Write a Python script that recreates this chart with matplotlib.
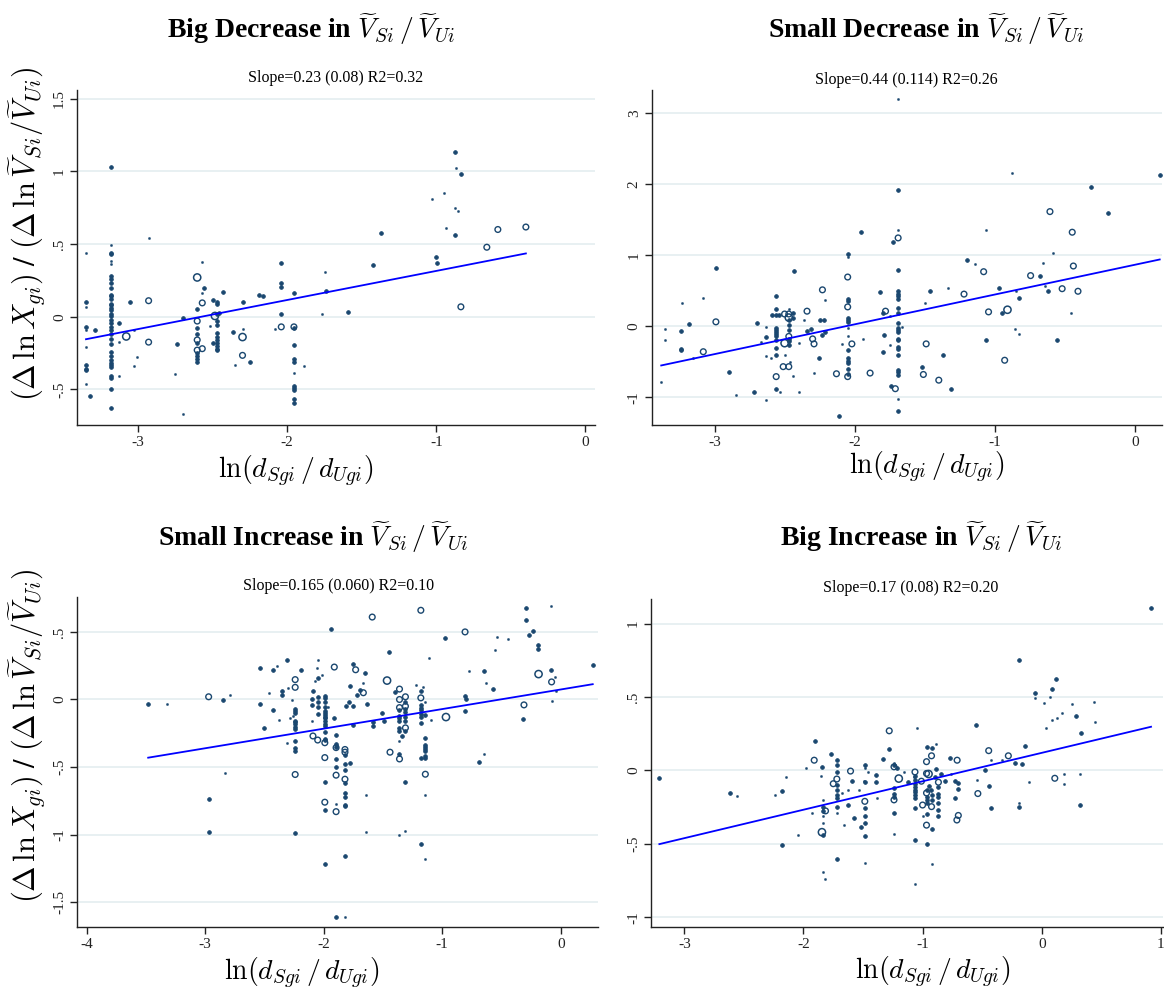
import numpy as np
import matplotlib
matplotlib.use('Agg')
import matplotlib.pyplot as plt

plt.rcParams['mathtext.fontset'] = 'cm'
plt.rcParams['font.family'] = ['Liberation Serif', 'DejaVu Serif']

# panel titles / fit stats
titles = ['Big Decrease in', 'Small Decrease in', 'Small Increase in', 'Big Increase in']
stats = ['Slope=0.23 (0.08) R2=0.32', 'Slope=0.44 (0.114) R2=0.26',
         'Slope=0.165 (0.060) R2=0.10', 'Slope=0.17 (0.08) R2=0.20']

# fitted lines (slope, intercept)
fit_slope = [0.200, 0.419, 0.145, 0.1935]
fit_icept = [0.515, 0.863, 0.074, 0.120]

# ticks
xticks = [[-3, -2, -1, 0], [-3, -2, -1, 0], [-4, -3, -2, -1, 0], [-3, -2, -1, 0, 1]]
yticks = [[1.5, 1, 0.5, 0, -0.5], [3, 2, 1, 0, -1], [0.5, 0, -0.5, -1, -1.5], [1, 0.5, 0, -0.5, -1]]
ytick_labels = [['1.5', '1', '.5', '0', '-.5'], ['3', '2', '1', '0', '-1'],
                ['.5', '0', '-.5', '-1', '-1.5'], ['1', '.5', '0', '-.5', '-1']]
xlims = [(-3.41, 0.065), (-3.447, 0.19), (-4.08, 0.315), (-3.28, 1.02)]
ylims = [(-0.745, 1.56), (-1.39, 3.32), (-1.68, 0.757), (-1.062, 1.166)]

# points: (x, y, weight class 1..4)
big_dec = [
    (-3.35, 0.44, 1), (-3.35, 0.10, 2), (-3.35, 0.066, 1), (-3.35, -0.07, 2), (-3.35, -0.09, 1),
    (-3.35, -0.21, 1), (-3.35, -0.33, 2), (-3.35, -0.36, 2), (-3.35, -0.37, 2), (-3.35, -0.46, 1),
    (-3.32, -0.545, 2), (-3.29, -0.093, 2),
    (-3.18, 1.03, 2), (-3.18, 0.49, 1), (-3.18, 0.44, 2), (-3.18, 0.43, 2), (-3.18, 0.38, 1),
    (-3.18, 0.36, 1), (-3.18, 0.28, 2), (-3.18, 0.26, 2), (-3.18, 0.23, 2), (-3.18, 0.20, 2),
    (-3.18, 0.15, 2), (-3.18, 0.14, 2), (-3.18, 0.125, 2), (-3.18, 0.09, 2), (-3.18, 0.08, 2),
    (-3.18, 0.06, 2), (-3.18, 0.045, 2), (-3.18, 0.02, 2), (-3.18, 0.005, 2), (-3.18, -0.02, 2),
    (-3.18, -0.04, 2), (-3.18, -0.07, 2), (-3.18, -0.09, 2), (-3.18, -0.12, 2), (-3.18, -0.155, 2),
    (-3.18, -0.19, 2), (-3.18, -0.24, 2), (-3.18, -0.27, 2), (-3.18, -0.30, 2), (-3.18, -0.32, 2),
    (-3.18, -0.335, 2), (-3.18, -0.345, 2), (-3.18, -0.41, 2), (-3.18, -0.42, 2), (-3.18, -0.50, 2),
    (-3.18, -0.63, 2),
    (-3.13, -0.04, 2), (-3.13, -0.175, 1), (-3.13, -0.41, 1), (-3.08, -0.136, 4), (-3.056, 0.10, 2),
    (-3.03, -0.09, 1), (-3.03, -0.34, 1), (-3.01, -0.28, 1),
    (-2.93, 0.54, 1), (-2.93, 0.11, 3), (-2.93, -0.175, 3),
    (-2.75, -0.395, 1), (-2.74, -0.19, 2), (-2.70, -0.01, 2), (-2.70, -0.67, 1),
    (-2.604, 0.27, 4), (-2.604, 0.05, 2), (-2.604, -0.03, 3), (-2.604, -0.08, 2), (-2.604, -0.12, 2),
    (-2.604, -0.16, 3), (-2.604, -0.18, 2), (-2.604, -0.23, 3), (-2.604, -0.25, 2), (-2.604, -0.27, 2),
    (-2.604, -0.29, 2), (-2.604, -0.31, 2),
    (-2.57, 0.375, 1), (-2.57, 0.095, 3), (-2.57, -0.22, 3), (-2.56, 0.195, 2), (-2.57, 0.16, 1),
    (-2.52, -0.064, 1), (-2.50, 0.118, 2), (-2.50, -0.18, 2),
    (-2.47, 0.10, 2), (-2.47, 0.085, 2), (-2.47, 0.02, 2), (-2.47, -0.03, 2), (-2.47, -0.06, 2),
    (-2.47, -0.11, 2), (-2.47, -0.14, 2), (-2.47, -0.16, 2), (-2.47, -0.18, 2), (-2.47, -0.20, 2),
    (-2.47, -0.22, 2), (-2.47, -0.23, 2),
    (-2.485, 0.005, 4), (-2.455, 0.023, 2), (-2.43, 0.17, 2), (-2.365, -0.105, 2), (-2.35, -0.33, 1),
    (-2.30, 0.10, 2), (-2.30, -0.084, 1), (-2.30, -0.14, 4), (-2.30, -0.266, 3), (-2.25, -0.31, 2),
    (-2.19, 0.15, 2), (-2.16, 0.14, 2),
    (-2.04, 0.367, 2), (-2.04, 0.232, 2), (-2.04, 0.203, 2), (-2.04, 0.016, 2), (-2.04, -0.07, 3),
    (-2.08, -0.085, 1),
    (-1.955, 0.16, 2), (-1.955, -0.07, 3), (-1.955, -0.08, 2), (-1.955, -0.198, 2), (-1.955, -0.29, 2),
    (-1.955, -0.31, 2), (-1.955, -0.385, 1), (-1.955, -0.475, 2), (-1.955, -0.49, 2),
    (-1.955, -0.507, 2), (-1.955, -0.565, 2), (-1.955, -0.595, 2),
    (-1.885, -0.34, 1), (-1.749, 0.305, 1), (-1.742, 0.18, 2), (-1.765, 0.016, 1), (-1.593, 0.032, 2),
    (-1.425, 0.354, 2), (-1.374, 0.578, 2),
    (-1.03, 0.81, 1), (-1.005, 0.414, 2), (-0.996, 0.37, 2),
    (-0.947, 0.851, 1), (-0.934, 0.612, 1), (-0.877, 1.131, 2), (-0.867, 1.02, 1), (-0.831, 0.979, 2),
    (-0.877, 0.746, 1), (-0.851, 0.728, 1), (-0.874, 0.56, 2), (-0.835, 0.068, 3),
    (-0.661, 0.478, 3), (-0.587, 0.60, 3), (-0.399, 0.617, 3),
]

small_dec = [
    (-3.38, -0.78, 1), (-3.35, -0.04, 1), (-3.35, -0.19, 1), (-3.23, 0.33, 1), (-3.24, -0.07, 2),
    (-3.24, -0.32, 2), (-3.24, -0.34, 2), (-3.18, 0.03, 2), (-3.155, -0.45, 1), (-3.08, 0.39, 1),
    (-3.08, -0.36, 3), (-2.99, 0.82, 2), (-2.99, 0.06, 3), (-2.90, -0.65, 2), (-2.845, -0.97, 1),
    (-2.72, -0.93, 2), (-2.70, 0.04, 2), (-2.635, -0.01, 1), (-2.635, -0.16, 2), (-2.635, -0.42, 1),
    (-2.635, -1.04, 1), (-2.67, -0.22, 1), (-2.60, -0.45, 1),
    (-2.56, 0.42, 2), (-2.56, 0.24, 2), (-2.56, 0.15, 2), (-2.56, -0.02, 2), (-2.56, -0.05, 2),
    (-2.56, -0.08, 2), (-2.56, -0.11, 2), (-2.56, -0.145, 2), (-2.56, -0.19, 2), (-2.56, -0.31, 2),
    (-2.56, -0.41, 2), (-2.56, -0.71, 3), (-2.56, -0.88, 2),
    (-2.59, 0.15, 2), (-2.54, 0.16, 2), (-2.53, -0.93, 1), (-2.51, -0.57, 3), (-2.50, 0.17, 3),
    (-2.50, -0.24, 4), (-2.50, -0.41, 1),
    (-2.47, 0.24, 1), (-2.47, 0.17, 3), (-2.47, 0.12, 4), (-2.47, 0.09, 2), (-2.47, 0.02, 2),
    (-2.47, -0.06, 2), (-2.47, -0.145, 3), (-2.47, -0.18, 2), (-2.47, -0.21, 2), (-2.47, -0.27, 2),
    (-2.47, -0.57, 3),
    (-2.46, -0.50, 1), (-2.44, 0.19, 2), (-2.44, 0.11, 2), (-2.43, 0.78, 2), (-2.44, -0.70, 1),
    (-2.40, -0.93, 1), (-2.40, -0.24, 1), (-2.36, 0.09, 1), (-2.34, 0.21, 3), (-2.34, -0.066, 2),
    (-2.31, -0.047, 2), (-2.30, -0.18, 3), (-2.29, -0.25, 3), (-2.255, -0.45, 2), (-2.29, -0.66, 1),
    (-2.25, 0.08, 2), (-2.22, 0.09, 2), (-2.23, 0.51, 3), (-2.21, 0.37, 1), (-2.23, -0.13, 2),
    (-2.21, -0.08, 2), (-2.13, -0.67, 3), (-2.11, -1.26, 2), (-2.09, -0.25, 1),
    (-2.05, 1.02, 2), (-2.05, 0.97, 1), (-2.05, 0.69, 3), (-2.05, 0.38, 2), (-2.05, 0.35, 2),
    (-2.05, 0.27, 3), (-2.05, 0.12, 2), (-2.05, 0.09, 2), (-2.05, 0.06, 2), (-2.05, -0.02, 1),
    (-2.05, -0.14, 1), (-2.05, -0.34, 2), (-2.05, -0.45, 2), (-2.05, -0.49, 2), (-2.05, -0.52, 2),
    (-2.05, -0.60, 2), (-2.05, -0.67, 2), (-2.05, -0.71, 3),
    (-1.955, 1.32, 2), (-2.02, -0.25, 3), (-1.94, -0.18, 1), (-1.89, -0.66, 3), (-1.82, 0.48, 2),
    (-1.80, 0.18, 2), (-1.78, 0.21, 3), (-1.80, -0.36, 2), (-1.79, -0.13, 2), (-1.75, -0.27, 1),
    (-1.69, 3.19, 1), (-1.69, 1.92, 2), (-1.69, 1.35, 1), (-1.69, 1.24, 3), (-1.69, 0.79, 2),
    (-1.69, 0.49, 2), (-1.69, 0.45, 2), (-1.69, 0.42, 2), (-1.69, 0.38, 2), (-1.69, 0.26, 2),
    (-1.69, 0.18, 2), (-1.69, 0.04, 2), (-1.69, -0.03, 2), (-1.69, -0.06, 2), (-1.69, -0.085, 2),
    (-1.69, -0.18, 2), (-1.69, -0.20, 2), (-1.69, -0.29, 2), (-1.69, -0.32, 2), (-1.69, -0.40, 2),
    (-1.69, -0.615, 2), (-1.69, -0.65, 2), (-1.69, -0.685, 2), (-1.69, -1.02, 1), (-1.69, -1.20, 2),
    (-1.73, 1.18, 2), (-1.75, 0.136, 1), (-1.66, -0.01, 1), (-1.74, -0.84, 2), (-1.71, -0.88, 3),
    (-1.52, -0.57, 2), (-1.51, -0.68, 3), (-1.50, 0.32, 1), (-1.49, -0.25, 3), (-1.46, 0.49, 2),
    (-1.40, -0.76, 3), (-1.37, -0.41, 2), (-1.335, 0.535, 1), (-1.31, -0.89, 2), (-1.22, 0.45, 3),
    (-1.20, 0.925, 2), (-1.14, 0.88, 1), (-1.08, 0.765, 3), (-1.064, 1.35, 1), (-1.06, -0.19, 2),
    (-1.045, 0.20, 3), (-0.97, 0.53, 2), (-0.95, 0.19, 2), (-0.93, -0.48, 3), (-0.91, 0.23, 4),
    (-0.876, 2.155, 1), (-0.857, -0.04, 1), (-0.83, -0.11, 1), (-0.85, 0.50, 1), (-0.826, 0.40, 2),
    (-0.745, 0.71, 3), (-0.68, 0.71, 2), (-0.657, 0.887, 1), (-0.64, 0.57, 1), (-0.62, 0.50, 2),
    (-0.607, 1.61, 3), (-0.586, 1.03, 1), (-0.557, -0.20, 2), (-0.52, 0.526, 3), (-0.46, 0.18, 1),
    (-0.448, 1.32, 3), (-0.44, 0.845, 3), (-0.407, 0.49, 3), (-0.314, 1.95, 2), (-0.19, 1.59, 2),
    (0.176, 2.12, 2),
]

small_inc = [
    (-3.48, -0.036, 2), (-3.32, -0.03, 1), (-2.97, 0.02, 3), (-2.97, -0.74, 2), (-2.97, -0.98, 2),
    (-2.85, -0.005, 2), (-2.83, -0.545, 1), (-2.79, 0.034, 1),
    (-2.54, 0.23, 2), (-2.54, -0.03, 2), (-2.50, -0.21, 2), (-2.46, 0.05, 1), (-2.43, 0.22, 2),
    (-2.43, -0.08, 2), (-2.39, 0.25, 1), (-2.38, -0.15, 1), (-2.35, 0.06, 2), (-2.35, 0.03, 2),
    (-2.31, 0.29, 2), (-2.31, -0.32, 1), (-2.30, 0.087, 1), (-2.28, -0.14, 1), (-2.27, -0.005, 1),
    (-2.255, -0.125, 1),
    (-2.24, 0.147, 3), (-2.24, 0.09, 3), (-2.24, -0.07, 2), (-2.24, -0.085, 2), (-2.24, -0.10, 2),
    (-2.24, -0.156, 2), (-2.24, -0.17, 2), (-2.24, -0.185, 2), (-2.24, -0.20, 2), (-2.24, -0.22, 2),
    (-2.24, -0.31, 2), (-2.24, -0.36, 2), (-2.24, -0.38, 2), (-2.24, -0.555, 3), (-2.24, -0.99, 2),
    (-2.19, 0.22, 2), (-2.10, -0.156, 1), (-2.10, 0.0, 2), (-2.10, -0.04, 2), (-2.09, 0.06, 2),
    (-2.07, 0.14, 1), (-2.06, 0.23, 1), (-2.05, 0.29, 1), (-2.05, 0.16, 2), (-2.05, 0.017, 2),
    (-2.05, -0.02, 2), (-2.05, -0.058, 2), (-2.05, -0.11, 2), (-2.01, 0.18, 1), (-2.09, -0.27, 3),
    (-2.05, -0.30, 3),
    (-1.99, 0.024, 2), (-1.99, 0.012, 2), (-1.99, -0.02, 2), (-1.99, -0.053, 2), (-1.99, -0.085, 2),
    (-1.99, -0.10, 2), (-1.99, -0.113, 2), (-1.99, -0.127, 2), (-1.99, -0.14, 2), (-1.99, -0.156, 2),
    (-1.99, -0.18, 2), (-1.99, -0.195, 2), (-1.99, -0.24, 2), (-1.99, -0.29, 2), (-1.99, -0.30, 2),
    (-1.99, -0.32, 3), (-1.99, -0.43, 3), (-1.99, -0.61, 2), (-1.99, -0.76, 3), (-1.99, -0.82, 2),
    (-1.99, -1.22, 2), (-1.96, -0.055, 1), (-1.94, 0.52, 2), (-1.91, 0.24, 3), (-1.91, -0.137, 2),
    (-1.895, -0.264, 2), (-1.895, -0.33, 2), (-1.895, -0.35, 2), (-1.895, -0.356, 3), (-1.895, -0.44, 2),
    (-1.895, -0.50, 2), (-1.895, -0.56, 3), (-1.895, -0.77, 1), (-1.895, -0.83, 3), (-1.895, -1.61, 2),
    (-1.82, -1.61, 1),
    (-1.82, -0.37, 3), (-1.82, -0.39, 3), (-1.82, -0.41, 2), (-1.82, -0.476, 2), (-1.82, -0.52, 2),
    (-1.82, -0.59, 3), (-1.82, -0.62, 2), (-1.82, -0.69, 2), (-1.82, -0.72, 2), (-1.82, -0.78, 2),
    (-1.82, -0.79, 2), (-1.82, -1.16, 2),
    (-1.78, 0.10, 2), (-1.79, -0.02, 2), (-1.78, -0.47, 2), (-1.81, -0.05, 2), (-1.75, 0.26, 2),
    (-1.73, 0.22, 3), (-1.75, -0.05, 2), (-1.75, -0.19, 2), (-1.72, 0.03, 2), (-1.69, 0.07, 2),
    (-1.67, 0.12, 1), (-1.665, 0.05, 3), (-1.65, 0.195, 2), (-1.64, -0.71, 1), (-1.64, -0.98, 1),
    (-1.63, -0.034, 2), (-1.59, 0.61, 3), (-1.58, -0.17, 2), (-1.58, -0.195, 2), (-1.505, -0.10, 2),
    (-1.49, -0.156, 2), (-1.465, 0.14, 4), (-1.445, 0.353, 2), (-1.44, -0.39, 3), (-1.40, 0.055, 2),
    (-1.36, 0.077, 3),
    (-1.36, 0.0, 3), (-1.36, -0.06, 3), (-1.36, -0.08, 2), (-1.36, -0.12, 2), (-1.36, -0.14, 2),
    (-1.36, -0.156, 2), (-1.36, -0.21, 2), (-1.36, -0.23, 2), (-1.36, -0.31, 1), (-1.36, -0.40, 2),
    (-1.36, -0.44, 3), (-1.36, -1.0, 1), (-1.34, -0.27, 2),
    (-1.31, 0.02, 3), (-1.31, -0.015, 2), (-1.31, -0.05, 3), (-1.31, -0.067, 2), (-1.31, -0.09, 2),
    (-1.31, -0.127, 2), (-1.31, -0.16, 2), (-1.31, -0.21, 3), (-1.31, -0.235, 2), (-1.31, -0.61, 2),
    (-1.31, -0.97, 1),
    (-1.22, 0.108, 1),
    (-1.18, 0.66, 3), (-1.18, 0.065, 2), (-1.18, 0.012, 3), (-1.18, -0.04, 2), (-1.18, -0.06, 2),
    (-1.18, -0.08, 2), (-1.18, -0.108, 2), (-1.18, -0.13, 2), (-1.18, -0.175, 2), (-1.18, -0.43, 2),
    (-1.18, -1.07, 2), (-1.165, 0.096, 1),
    (-1.142, -0.02, 1), (-1.142, -0.113, 2), (-1.142, -0.286, 2), (-1.142, -0.334, 2), (-1.142, -0.35, 2),
    (-1.142, -0.37, 2), (-1.142, -0.38, 2), (-1.142, -0.42, 2), (-1.142, -0.43, 2), (-1.142, -0.553, 3),
    (-1.142, -0.71, 1), (-1.142, -1.18, 1),
    (-1.11, 0.305, 1), (-1.093, -0.15, 1), (-0.976, 0.454, 2), (-0.968, -0.13, 4), (-0.807, 0.50, 3),
    (-0.81, 0.027, 2), (-0.80, 0.005, 2), (-0.81, -0.087, 2), (-0.77, 0.214, 1), (-0.69, -0.46, 2),
    (-0.645, -0.40, 1), (-0.645, 0.214, 2), (-0.627, 0.12, 1), (-0.568, 0.077, 2), (-0.553, 0.365, 1),
    (-0.534, 0.464, 1), (-0.446, 0.447, 1), (-0.31, -0.04, 3), (-0.32, -0.147, 2), (-0.294, 0.59, 2),
    (-0.29, 0.678, 2), (-0.27, 0.476, 2), (-0.23, 0.507, 2), (-0.192, 0.404, 2), (-0.192, 0.375, 2),
    (-0.187, 0.188, 4), (-0.082, 0.69, 1), (-0.082, 0.22, 2), (-0.05, 0.17, 1), (-0.077, 0.13, 3),
    (-0.04, 0.065, 1), (-0.07, -0.014, 1), (0.27, 0.255, 2),
]

big_inc = [
    (-3.21, -0.053, 2), (-2.62, -0.153, 2), (-2.56, -0.173, 1), (-2.24, -0.17, 1), (-2.18, -0.14, 2),
    (-2.18, -0.505, 2), (-2.15, -0.047, 1), (-2.05, -0.44, 1), (-1.98, 0.016, 1), (-1.93, -0.286, 1),
    (-1.91, 0.07, 3), (-1.90, 0.20, 2), (-1.845, 0.024, 2), (-1.85, -0.035, 1), (-1.845, -0.42, 4),
    (-1.84, -0.69, 1), (-1.82, -0.74, 1),
    (-1.84, -0.20, 1), (-1.84, -0.246, 2), (-1.84, -0.275, 2), (-1.84, -0.31, 1), (-1.84, -0.36, 1),
    (-1.84, -0.44, 2),
    (-1.815, -0.275, 3), (-1.77, 0.11, 2), (-1.75, -0.09, 3),
    (-1.72, 0.07, 2), (-1.72, 0.035, 2), (-1.72, -0.01, 2), (-1.72, -0.058, 3), (-1.72, -0.10, 2),
    (-1.72, -0.135, 2), (-1.72, -0.17, 2), (-1.72, -0.19, 2), (-1.72, -0.246, 2), (-1.72, -0.29, 1),
    (-1.72, -0.60, 2),
    (-1.68, -0.153, 1), (-1.63, -0.135, 1), (-1.66, -0.37, 1), (-1.63, -0.235, 2), (-1.605, -0.004, 3),
    (-1.59, -0.07, 2), (-1.58, -0.32, 2), (-1.53, -0.135, 1), (-1.515, -0.386, 2), (-1.49, -0.073, 1),
    (-1.485, 0.04, 2), (-1.485, 0.02, 1), (-1.485, -0.08, 2), (-1.485, -0.21, 3), (-1.485, -0.257, 2),
    (-1.485, -0.31, 2), (-1.485, -0.357, 2), (-1.485, -0.446, 2), (-1.485, -0.63, 1),
    (-1.46, -0.013, 1), (-1.39, -0.03, 2), (-1.39, -0.075, 2), (-1.385, -0.186, 1), (-1.33, 0.075, 2),
    (-1.28, 0.27, 3), (-1.28, 0.144, 2),
    (-1.24, 0.05, 1), (-1.24, 0.035, 2), (-1.24, 0.025, 3), (-1.24, -0.12, 2), (-1.24, -0.16, 2),
    (-1.24, -0.18, 2), (-1.24, -0.20, 3), (-1.24, -0.29, 2), (-1.24, -0.435, 1),
    (-1.215, 0.016, 2), (-1.20, -0.055, 4), (-1.155, -0.013, 1), (-1.12, -0.08, 2), (-1.07, -0.046, 1),
    (-1.064, -0.01, 3), (-1.064, -0.04, 2), (-1.064, -0.064, 2), (-1.064, -0.09, 2), (-1.064, -0.113, 2),
    (-1.064, -0.13, 2), (-1.064, -0.146, 2), (-1.064, -0.17, 2), (-1.064, -0.19, 2), (-1.064, -0.257, 2),
    (-1.064, -0.47, 2), (-1.064, -0.77, 1),
    (-1.045, 0.29, 1), (-1.01, -0.073, 3), (-1.0, -0.235, 3), (-1.0, -0.31, 1),
    (-0.967, 0.16, 2), (-0.967, 0.06, 3), (-0.967, -0.02, 3), (-0.967, -0.135, 2), (-0.967, -0.153, 3),
    (-0.967, -0.18, 2), (-0.967, -0.20, 2), (-0.967, -0.224, 2), (-0.967, -0.297, 2), (-0.967, -0.372, 3),
    (-0.967, -0.497, 2),
    (-0.95, -0.024, 4), (-0.945, -0.106, 2), (-0.93, -0.135, 2), (-0.925, 0.15, 2), (-0.925, 0.10, 3),
    (-0.925, -0.17, 2), (-0.925, -0.20, 2), (-0.925, -0.246, 3), (-0.925, -0.40, 2), (-0.925, -0.634, 1),
    (-0.893, -0.047, 2), (-0.89, 0.013, 2), (-0.89, 0.18, 1),
    (-0.867, -0.08, 3), (-0.867, -0.113, 2), (-0.867, -0.157, 2), (-0.867, -0.18, 2), (-0.867, -0.224, 2),
    (-0.867, -0.268, 2), (-0.867, -0.31, 2),
    (-0.845, -0.024, 2), (-0.815, -0.069, 2), (-0.773, 0.082, 2), (-0.764, -0.024, 1), (-0.73, -0.069, 2),
    (-0.73, -0.186, 2), (-0.71, 0.07, 3), (-0.703, -0.084, 2), (-0.706, -0.124, 2), (-0.712, -0.337, 3),
    (-0.70, -0.306, 3),
    (-0.55, 0.31, 2), (-0.54, -0.065, 1), (-0.536, -0.157, 3), (-0.473, 0.002, 2), (-0.445, 0.135, 3),
    (-0.445, -0.106, 2), (-0.424, 0.07, 1), (-0.424, -0.257, 2), (-0.33, 0.07, 1), (-0.28, 0.10, 3),
    (-0.227, 0.053, 2), (-0.19, 0.754, 2), (-0.19, -0.224, 1), (-0.19, -0.25, 2), (-0.167, 0.047, 2),
    (-0.136, 0.164, 2), (-0.103, -0.08, 1), (-0.06, 0.528, 2), (-0.058, 0.492, 1), (0.018, 0.457, 1),
    (0.04, 0.29, 1), (0.07, 0.497, 1), (0.09, 0.556, 2), (0.09, 0.346, 1), (0.11, -0.053, 3),
    (0.124, 0.625, 2), (0.13, 0.357, 1), (0.167, 0.39, 1), (0.19, -0.024, 1), (0.19, -0.09, 1),
    (0.258, 0.455, 1), (0.29, 0.37, 2), (0.324, -0.027, 1), (0.33, 0.253, 2), (0.32, -0.235, 2),
    (0.44, 0.466, 1), (0.45, 0.33, 1), (0.918, 1.106, 2),
]

panels = [big_dec, small_dec, small_inc, big_inc]

NAVY = '#1a476f'
GRID = '#e4edf0'
msize = {1: 2.5, 2: 7, 3: 17, 4: 27}
mlw = {1: 0.3, 2: 0.6, 3: 1.0, 4: 1.1}
mfill = {1: True, 2: True, 3: False, 4: False}

# axes rectangles in figure fraction
rects = [[0.0662, 0.5716, 0.445, 0.3377], [0.560, 0.5716, 0.438, 0.3377],
         [0.0662, 0.066, 0.4476, 0.332], [0.5593, 0.066, 0.440, 0.330]]
title_pos = [(0.267, 0.971), (0.796, 0.971), (0.269, 0.458), (0.791, 0.458)]
stat_pos = [(0.288, 0.921), (0.779, 0.919), (0.291, 0.409), (0.782, 0.407)]
xlab_pos = [(0.254, 0.525), (0.796, 0.529), (0.259, 0.019), (0.801, 0.020)]
ylab_pos = [(0.023, 0.764), None, (0.023, 0.258), None]

fig = plt.figure(figsize=(11.64, 9.92), dpi=100)
vt = r'$\widetilde{V}_{Si}\,/\,\widetilde{V}_{Ui}$'

for i, pts in enumerate(panels):
    ax = fig.add_axes(rects[i])
    arr = np.array(pts)
    x, y, w = arr[:, 0], arr[:, 1], arr[:, 2].astype(int)
    for k in [1, 2, 3, 4]:
        m = w == k
        ax.scatter(x[m], y[m], s=msize[k], facecolors=NAVY if mfill[k] else 'none',
                   edgecolors=NAVY, linewidths=mlw[k], zorder=3)
    xx = np.array([x.min(), x.max()])
    ax.plot(xx, fit_icept[i] + fit_slope[i] * xx, color='#0000ff', lw=1.3, zorder=4)

    ax.set_xlim(*xlims[i])
    ax.set_ylim(*ylims[i])
    ax.set_xticks(xticks[i])
    ax.set_xticklabels([str(t) for t in xticks[i]], fontsize=11)
    ax.set_yticks(yticks[i])
    ax.set_yticklabels(ytick_labels[i], fontsize=11, rotation=90, va='center')
    for t in yticks[i]:
        ax.axhline(t, color=GRID, lw=1.2, zorder=1)
    for s in ['top', 'right']:
        ax.spines[s].set_visible(False)
    for s in ['left', 'bottom']:
        ax.spines[s].set_linewidth(1.0)
        ax.spines[s].set_color('#222222')
    ax.tick_params(direction='out', length=5, width=1, colors='#222222', pad=3)

    fig.text(*title_pos[i], titles[i] + ' ' + vt, ha='center', va='center',
             fontsize=20, fontweight='bold')
    fig.text(*stat_pos[i], stats[i], ha='center', va='center', fontsize=11.5)
    fig.text(*xlab_pos[i], r'$\ln(d_{Sgi}\,/\,d_{Ugi})$', ha='center', va='center', fontsize=20)
    if ylab_pos[i] is not None:
        fig.text(*ylab_pos[i],
                 r'$(\Delta\,\ln X_{gi})$ / $(\Delta\,\ln \widetilde{V}_{Si}/\widetilde{V}_{Ui})$',
                 ha='center', va='center', rotation=90, fontsize=22, fontweight='bold')

fig.savefig('out.png', dpi=100)
